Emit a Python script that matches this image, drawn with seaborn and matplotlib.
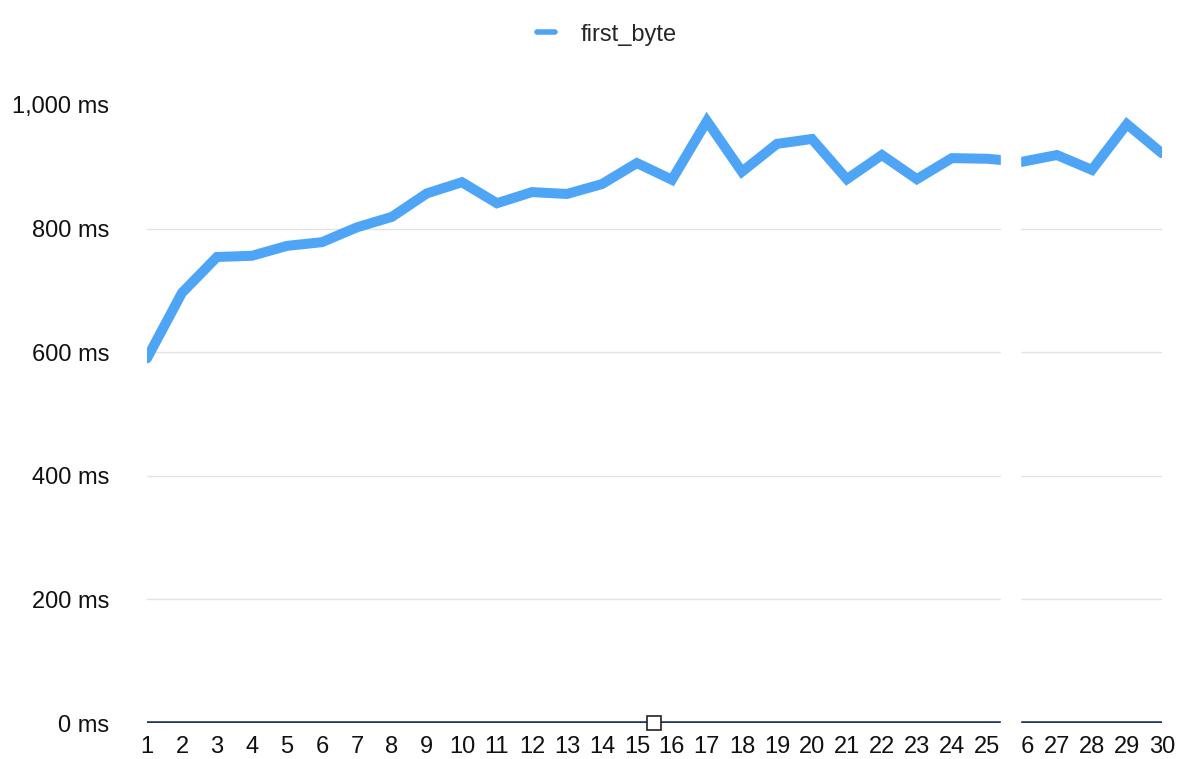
import numpy as np
import pandas as pd
import matplotlib
matplotlib.use("Agg")
import matplotlib.pyplot as plt
from matplotlib.patches import Rectangle
import seaborn as sns

# ── Data ────────────────────────────────────────────────────────────────────
runs = list(range(1, 31))
first_byte_ms = [
    590, 696, 754, 756, 772, 778, 802, 819, 857, 875,
    841, 859, 856, 872, 906, 879, 974, 892, 937, 945,
    880, 919, 880, 914, 913, 908, 919, 895, 969, 922,
]
y_ticks = [0, 200, 400, 600, 800, 1000]
series_name = "first_byte"

LINE_COLOR = "#4ea5f6"
GRID_COLOR = "#e3e3e3"
ZERO_COLOR = "#23375a"

df = pd.DataFrame({"run": runs, series_name: first_byte_ms})

sns.set_style("white")
plt.rcParams["font.family"] = ["Liberation Sans", "DejaVu Sans"]

fig = plt.figure(figsize=(11.88, 7.59), dpi=100)
ax = fig.add_axes([0.1237, 0.0474, 0.8543, 0.8143])

sns.lineplot(data=df, x="run", y=series_name, ax=ax, color=LINE_COLOR,
             linewidth=7.2, solid_joinstyle="miter", label=series_name,
             legend=False)

ax.set_xlim(runs[0], runs[-1])
ax.set_ylim(y_ticks[0], y_ticks[-1])
ax.set_xticks(runs)
ax.set_xticklabels([str(r) for r in runs])
ax.set_yticks(y_ticks)
ax.set_yticklabels([f"{v:,} ms" for v in y_ticks])
ax.tick_params(axis="both", length=0, labelsize=17, colors="#111111")
ax.tick_params(axis="y", pad=27)
ax.tick_params(axis="x", pad=9)
ax.set_xlabel("")
ax.set_ylabel("")

for v in y_ticks[1:-1]:
    ax.axhline(v, color=GRID_COLOR, linewidth=1, zorder=0)
ax.axhline(0, color=ZERO_COLOR, linewidth=2.6, zorder=3)
for s in ax.spines.values():
    s.set_visible(False)

# small range handle sitting on the baseline
ax.plot([15.5], [0], marker="s", markersize=10, markerfacecolor="white",
        markeredgecolor="#222222", markeredgewidth=1.2, zorder=6, clip_on=False)

# white seam between the two stitched screenshots
fig.patches.append(Rectangle((1001 / 1188, 0), 19 / 1188, 0.87,
                             transform=fig.transFigure, color="white",
                             zorder=10))

legend_handle = plt.Line2D([], [], color=LINE_COLOR, linewidth=4)
fig.legend([legend_handle], [series_name], loc="upper center",
           bbox_to_anchor=(0.511, 0.997), frameon=False, fontsize=17,
           handlelength=0.75, handletextpad=1.1)

fig.savefig("out.png", dpi=100)
